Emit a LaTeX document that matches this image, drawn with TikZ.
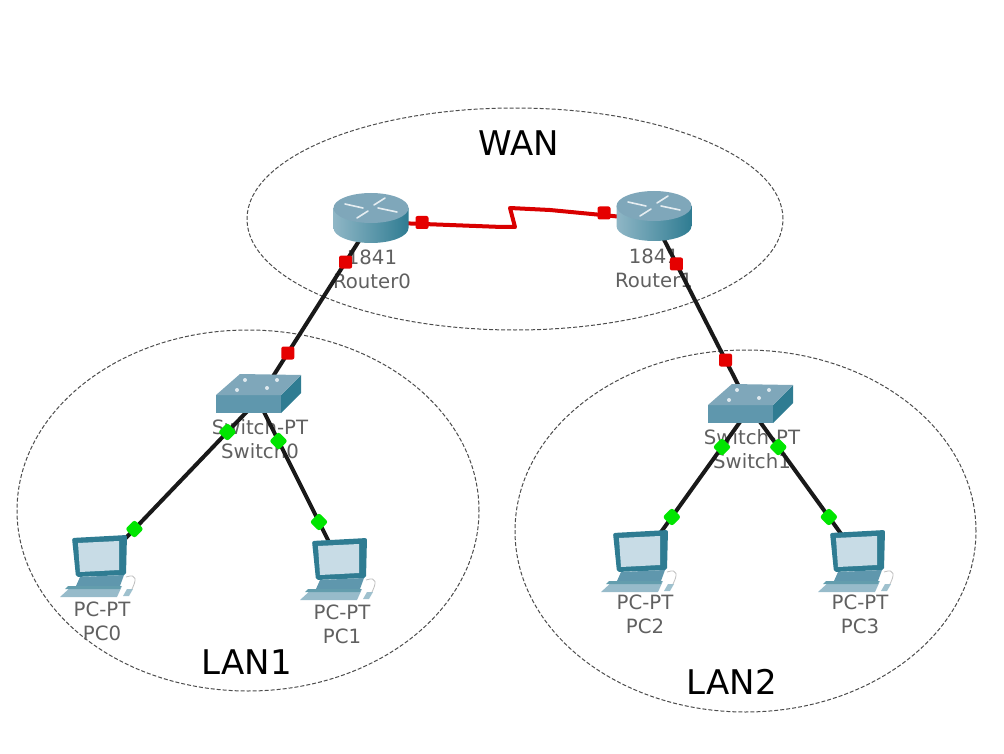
\documentclass[tikz,border=0pt]{standalone}
\usepackage{fontspec}
\setmainfont{DejaVu Sans}
\usetikzlibrary{positioning,shapes.geometric,calc}
\definecolor{ciscoDark}{HTML}{2F7C92}
\definecolor{ciscoMid}{HTML}{5F97AD}
\definecolor{ciscoTop}{HTML}{7FA7BA}
\definecolor{ciscoPale}{HTML}{C8DCE6}
\definecolor{labelGray}{HTML}{606060}

\begin{document}
\begin{tikzpicture}[x=1pt, y=-1pt,
  zone/.style={ellipse, draw=black!70, dash pattern=on 4pt off 2pt, line width=1pt, inner sep=0pt},
  zoneLabel/.style={inner sep=0pt, font=\fontsize{34}{38}\selectfont, text=black},
  devLabel/.style={inner sep=0pt, align=center, font=\fontsize{19.7}{24}\selectfont, text=labelGray},
  link/.style={line width=4pt, black!90},
  serial/.style={line width=4pt, red!85!black, line join=round},
  portUp/.style={rectangle, fill=red!90!black, minimum size=13pt, inner sep=0pt, rounded corners=2pt},
  portOk/.style={diamond, fill=green!90!black, minimum size=20pt, inner sep=0pt, rounded corners=2.5pt},
  router/.pic={
    \shade[left color=ciscoMid!70!white, middle color=ciscoPale!40!white, right color=ciscoDark]
      (-37.5,-14) -- (-37.5,6) arc[start angle=180, end angle=0, x radius=37.5, y radius=15] -- (37.5,-14) -- cycle;
    \fill[ciscoTop] (0,-14) ellipse[x radius=37.5, y radius=15];
    \draw[white!80!ciscoTop, line width=1.6pt, line cap=round]
      (-26,-18) -- (-8,-14) (26,-10) -- (7,-14) (-14,-4) -- (-3,-11) (14,-24) -- (3,-17);
  },
  switchbox/.pic={
    \fill[ciscoMid] (-42,-5) -- (23,-5) -- (23,13) -- (-42,13) -- cycle;
    \fill[ciscoDark] (23,-5) -- (43,-25) -- (43,-7) -- (23,13) -- cycle;
    \fill[ciscoTop] (-42,-5) -- (-18,-26) -- (43,-25) -- (23,-5) -- cycle;
    \fill[white!75!ciscoTop] (-21,-10) circle[radius=2] (-13,-20) circle[radius=2]
      (9,-12) circle[radius=2] (19,-20) circle[radius=2];
  },
  pcbox/.pic={
    \fill[ciscoDark, rounded corners=2pt] (-28,-27) -- (27,-30) -- (26,10) -- (-24,12) -- cycle;
    \fill[ciscoPale] (-22,-22) -- (19,-24) -- (19,5) -- (-20,7) -- cycle;
    \fill[ciscoMid] (-20,12) -- (24,10) -- (20,21) -- (-24,21) -- cycle;
    \fill[ciscoMid!65!white] (-40,32) -- (-28,21) -- (22,21) -- (17,32) -- cycle;
    \fill[ciscoDark!75!white] (-32,21) -- (21,21) -- (20,24) -- (-35,24) -- cycle;
    \fill[ciscoMid!60!white] (23,31) -- (27,24) -- (33,24) -- (29,31) -- cycle;
    \draw[black!25, line width=0.8pt] (26,12) .. controls (38,8) and (36,16) .. (32,24);
  },
]
  \useasboundingbox (0,0) rectangle (1004,754);

% Zones
  \node[zone, minimum width=536pt, minimum height=222pt] (zoneWAN) at (515,219) {};
  \node[zone, minimum width=462pt, minimum height=361pt] (zoneLAN1) at (248,510.5) {};
  \node[zone, minimum width=461pt, minimum height=362pt] (zoneLAN2) at (745.5,531) {};
  \node[zoneLabel] (labelWAN) at (519,143) {WAN};
  \node[zoneLabel] (labelLAN1) at (247,662) {LAN1};
  \node[zoneLabel] (labelLAN2) at (732,682) {LAN2};

% Devices
  \coordinate (Router0) at (371,222);
  \coordinate (Router1) at (654,220);
  \coordinate (Switch0) at (258,400);
  \coordinate (Switch1) at (750,408);
  \coordinate (PC0) at (100,565);
  \coordinate (PC1) at (342,568);
  \coordinate (PC2) at (641,560);
  \coordinate (PC3) at (860,560);

% Device labels
  \node[devLabel] (nameRouter0) at (372,269) {1841\\Router0};
  \node[devLabel] (nameRouter1) at (654,268) {1841\\Router1};
  \node[devLabel] (nameSwitch0) at (260,439) {Switch-PT\\Switch0};
  \node[devLabel] (nameSwitch1) at (752,449) {Switch-PT\\Switch1};
  \node[devLabel] (namePC0) at (102,621) {PC-PT\\PC0};
  \node[devLabel] (namePC1) at (342,624) {PC-PT\\PC1};
  \node[devLabel] (namePC2) at (645,614) {PC-PT\\PC2};
  \node[devLabel] (namePC3) at (860,614) {PC-PT\\PC3};

% Connections
  \draw[link] (Router0) -- (Switch0)
    node[portUp, pos=0.225] (portR0) {} node[portUp, pos=0.736] (portS0) {};
  \draw[link] (Router1) -- (Switch1)
    node[portUp, pos=0.234] (portR1) {} node[portUp, pos=0.745] (portS1) {};
  \draw[link] (Switch0) -- (PC0)
    node[portOk, pos=0.194] (portS0a) {} node[portOk, pos=0.782] (portPC0) {};
  \draw[link] (Switch0) -- (PC1)
    node[portOk, pos=0.244] (portS0b) {} node[portOk, pos=0.726] (portPC1) {};
  \draw[link] (Switch1) -- (PC2)
    node[portOk, pos=0.257] (portS1a) {} node[portOk, pos=0.717] (portPC2) {};
  \draw[link] (Switch1) -- (PC3)
    node[portOk, pos=0.257] (portS1b) {} node[portOk, pos=0.717] (portPC3) {};
  \draw[serial] (Router0) -- (502,227) -- (515,227) -- (510,208) -- (550,210) -- (Router1);
  \node[portUp] (portWAN0) at (422,222.5) {};
  \node[portUp] (portWAN1) at (604,213) {};

% Icons on top of the lines
  \pic at (Router0) {router};
  \pic at (Router1) {router};
  \pic at (Switch0) {switchbox};
  \pic at (750,410) {switchbox};
  \pic at (PC0) {pcbox};
  \pic at (340,568) {pcbox};
  \pic at (PC2) {pcbox};
  \pic at (858,560) {pcbox};
\end{tikzpicture}
\end{document}
